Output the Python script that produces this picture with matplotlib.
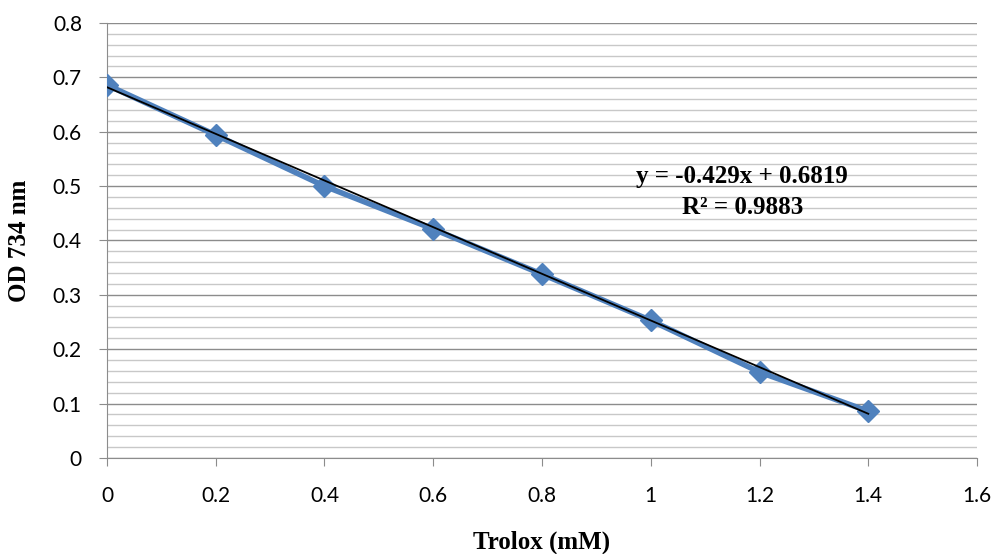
import numpy as np
import matplotlib.pyplot as plt
from matplotlib.ticker import MultipleLocator

# Trolox standard curve
trolox_mM = [0, 0.2, 0.4, 0.6, 0.8, 1.0, 1.2, 1.4]
od_734 = [0.686, 0.594, 0.500, 0.421, 0.338, 0.253, 0.158, 0.086]

slope = -0.429
intercept = 0.6819
r_squared = 0.9883

fig = plt.figure(figsize=(9.97, 5.54), dpi=100)
ax1 = fig.add_axes([0.1073, 0.1733, 0.8727, 0.7852])

grid_major = '#8c8c8c'
grid_minor = '#c8c8c8'

ax1.yaxis.set_major_locator(MultipleLocator(0.1))
ax1.yaxis.set_minor_locator(MultipleLocator(0.02))
ax1.xaxis.set_major_locator(MultipleLocator(0.2))
ax1.grid(axis='y', which='major', color=grid_major, linewidth=1.0)
ax1.grid(axis='y', which='minor', color=grid_minor, linewidth=1.0)
ax1.set_axisbelow(True)

# data series
ax1.plot(trolox_mM, od_734, color='#4f81bd', linewidth=4, marker='D',
         markersize=11, zorder=3)

# linear trendline
xs = np.array([trolox_mM[0], trolox_mM[-1]])
ax1.plot(xs, slope * xs + intercept, color='black', linewidth=1.3, zorder=4)

ax1.text(0.73, 0.648, 'y = -0.429x + 0.6819', transform=ax1.transAxes, ha='center', va='center',
         fontsize=18, fontweight='bold', family='Liberation Serif')
ax1.text(0.73, 0.575, 'R² = %.4f' % r_squared, transform=ax1.transAxes, ha='center', va='center',
         fontsize=18, fontweight='bold', family='Liberation Serif')

ax1.set_xlim(0, 1.6)
ax1.set_ylim(0, 0.8)
ax1.set_xticks([0, 0.2, 0.4, 0.6, 0.8, 1, 1.2, 1.4, 1.6])
ax1.set_xticklabels(['0', '0.2', '0.4', '0.6', '0.8', '1', '1.2', '1.4', '1.6'])
ax1.set_yticks([0, 0.1, 0.2, 0.3, 0.4, 0.5, 0.6, 0.7, 0.8])
ax1.set_yticklabels(['0', '0.1', '0.2', '0.3', '0.4', '0.5', '0.6', '0.7', '0.8'])

ax1.spines['top'].set_visible(False)
ax1.spines['right'].set_visible(False)
ax1.spines['left'].set_color(grid_major)
ax1.spines['bottom'].set_color(grid_major)
ax1.tick_params(axis='both', which='major', direction='out', length=6, color=grid_major,
                labelsize=15, labelcolor='black')
ax1.tick_params(axis='y', which='minor', length=0)
ax1.tick_params(axis='x', pad=14)
ax1.tick_params(axis='y', pad=12)
for lab in ax1.get_xticklabels() + ax1.get_yticklabels():
    lab.set_family('Lato')

ax1.set_xlabel('Trolox (mM)', fontsize=18, fontweight='bold', family='Liberation Serif', labelpad=18)
ax1.set_ylabel('OD 734 nm', fontsize=18, fontweight='bold', family='Liberation Serif', labelpad=16)

fig.savefig('out.png', dpi=100)
